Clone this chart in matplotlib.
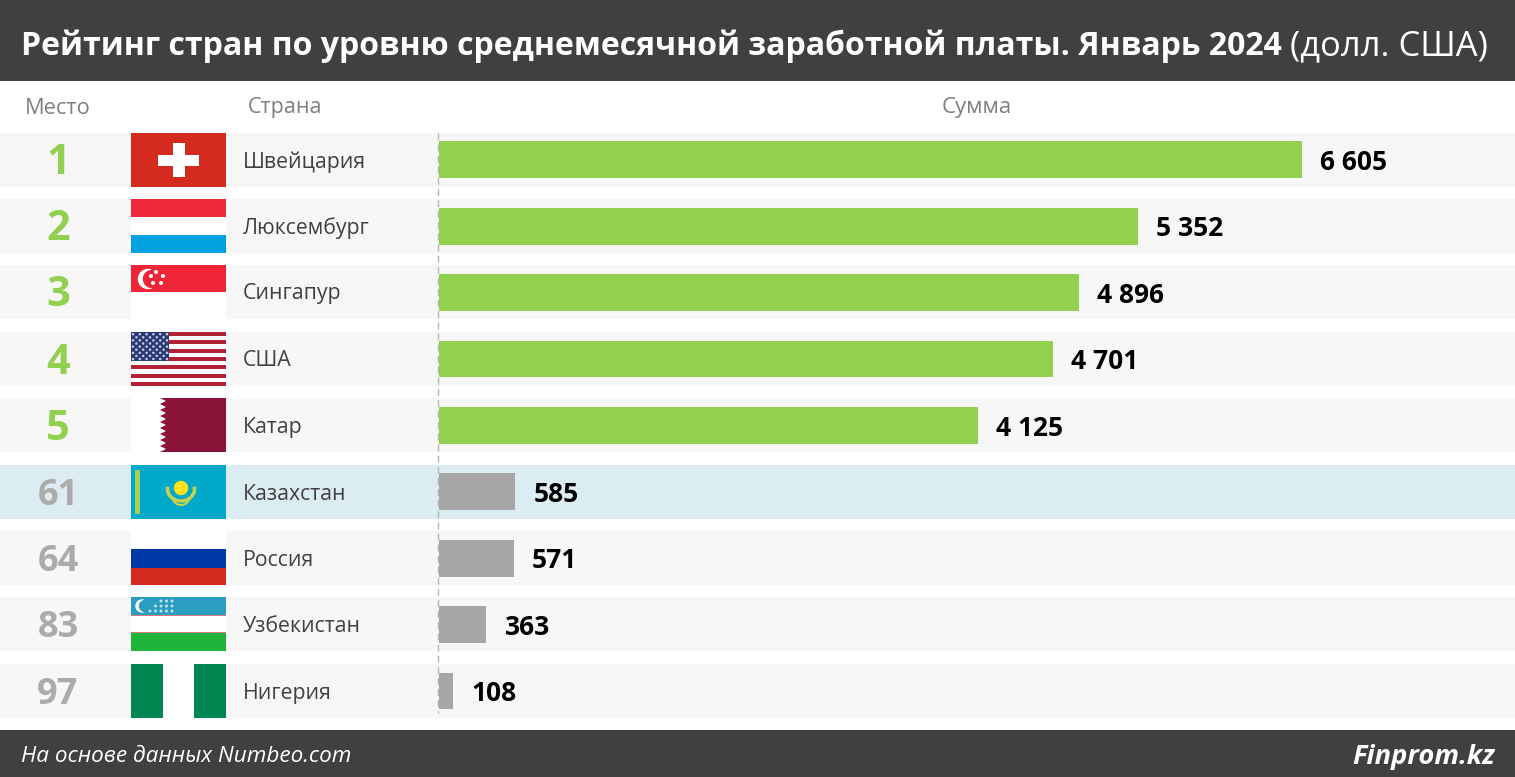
import numpy as np
import matplotlib
matplotlib.use("Agg")
import matplotlib.pyplot as plt
from matplotlib.patches import Rectangle, Polygon, Circle, Arc

W, H = 1515, 777

ranks = ["1", "2", "3", "4", "5", "61", "64", "83", "97"]
countries = ["Швейцария", "Люксембург", "Сингапур", "США", "Катар",
             "Казахстан", "Россия", "Узбекистан", "Нигерия"]
values = [6605, 5352, 4896, 4701, 4125, 585, 571, 363, 108]
value_labels = ["6 605", "5 352", "4 896", "4 701", "4 125", "585", "571", "363", "108"]
row_tops = [133, 199, 265, 332, 398, 465, 531, 597, 664]
flag_codes = ["ch", "lu", "sg", "us", "qa", "kz", "ru", "uz", "ng"]

GREEN = "#92D050"
GREY_BAR = "#A6A6A6"
GREY_RANK = "#ABABAB"
DARK = "#404040"
ROW_BG = "#F7F7F7"
HIGHLIGHT = "#DBECF2"
ROW_H = 54
FLAG_X = 131
FLAG_W = 95

plt.rcParams["font.family"] = ["Open Sans", "DejaVu Sans"]


def rect(ax, x, y, w, h, color, z=2):
    ax.add_patch(Rectangle((x, y), w, h, facecolor=color, edgecolor="none", zorder=z))


def draw_flag(ax, code, top):
    x, w, h = FLAG_X, FLAG_W, ROW_H
    rect(ax, x, top, w, h, "white")
    if code == "ch":
        rect(ax, x, top, w, h, "#D52B1E", 3)
        rect(ax, x + 27, top + 22, 41, 11, "white", 4)
        rect(ax, x + 42, top + 10, 12, 34, "white", 4)
    elif code == "lu":
        rect(ax, x, top, w, 18, "#ED2939", 3)
        rect(ax, x, top + 36, w, 18, "#00A1DE", 3)
    elif code == "sg":
        rect(ax, x, top, w, 27, "#EE2536", 3)
        ax.add_patch(Circle((x + 17, top + 14), 9.5, color="white", zorder=4))
        ax.add_patch(Circle((x + 21, top + 14), 8.5, color="#EE2536", zorder=5))
        for dx, dy in [(25, 7), (32, 11), (30, 18), (22, 18), (20, 11)]:
            ax.add_patch(Circle((x + dx, top + dy), 1.3, color="white", zorder=6))
    elif code == "us":
        for i in range(13):
            color = "#B22234" if i % 2 == 0 else "white"
            rect(ax, x, top + i * h / 13, w, h / 13, color, 3)
        rect(ax, x, top, 38, 29, "#2B3A75", 4)
        for i in range(9):
            for j in range(11):
                if (i + j) % 2 == 0:
                    ax.add_patch(Circle((x + 2 + j * 3.4, top + 2.2 + i * 3.1), 0.55,
                                        color="#C8CCE0", zorder=5))
    elif code == "qa":
        ys = np.linspace(top, top + h, 19)
        pts = [(x + w, top), (x + 29, top)]
        for i, y in enumerate(ys[1:]):
            pts.append((x + 29 + (6 if i % 2 == 0 else 0), y))
        pts.append((x + w, top + h))
        ax.add_patch(Polygon(pts, closed=True, facecolor="#8A1538", edgecolor="none", zorder=3))
    elif code == "kz":
        rect(ax, x, top, w, h, "#00A9C9", 3)
        rect(ax, x + 4, top + 5, 5, 44, "#A9CF55", 4)
        ax.add_patch(Circle((x + 50, top + 23), 6.5, color="#FFE21A", zorder=5))
        ax.add_patch(Arc((x + 50, top + 24), 27, 24, theta1=-10, theta2=190, color="#C9D44C",
                         lw=2.5, zorder=4))
        ax.add_patch(Arc((x + 50, top + 33), 16, 14, theta1=10, theta2=170, color="#C9D44C",
                         lw=1.5, zorder=4))
    elif code == "ru":
        rect(ax, x, top + 18, w, 19, "#0039A6", 3)
        rect(ax, x, top + 37, w, 17, "#D52B1E", 3)
    elif code == "uz":
        rect(ax, x, top, w, 18, "#2A9DC0", 3)
        rect(ax, x, top + 18, w, 1, "#D97A80", 3)
        rect(ax, x, top + 35, w, 1, "#D97A80", 3)
        rect(ax, x, top + 36, w, 18, "#1EB53A", 3)
        ax.add_patch(Circle((x + 11, top + 9), 6, color="white", zorder=4))
        ax.add_patch(Circle((x + 14, top + 9), 5.5, color="#2A9DC0", zorder=5))
        for i in range(3):
            for j in range(5):
                if i >= 2 - j:
                    ax.add_patch(Circle((x + 19 + j * 5.5, top + 4 + i * 5), 0.8,
                                        color="#BFE0EC", zorder=5))
    elif code == "ng":
        rect(ax, x, top, w / 3, h, "#008751", 3)
        rect(ax, x + 2 * w / 3, top, w / 3, h, "#008751", 3)


fig = plt.figure(figsize=(W / 100, H / 100), dpi=100, facecolor="white")

# pixel axes for the table furniture
ax = fig.add_axes([0, 0, 1, 1])
ax.set_xlim(0, W)
ax.set_ylim(H, 0)
ax.axis("off")

rect(ax, 0, 0, W, 81, DARK)
rect(ax, 0, 730, W, 47, DARK)

ax.text(21, 46, "Рейтинг стран по уровню среднемесячной заработной платы. Январь 2024",
        color="white", fontsize=23.05, fontweight="bold", va="center", ha="left")
ax.text(1488, 46, "(долл. США)", color="white", fontsize=24.8, va="center", ha="right")
ax.text(21, 756, "На основе данных Numbeo.com", color="white", fontsize=16.2,
        style="italic", va="center", ha="left")
ax.text(1495, 757, "Finprom.kz", color="white", fontsize=19.6, style="italic",
        fontweight="bold", va="center", ha="right")

ax.text(58, 108, "Место", color="#7F7F7F", fontsize=15.7, va="center", ha="center")
ax.text(248, 108, "Страна", color="#7F7F7F", fontsize=15.5, va="center", ha="left")
ax.text(977, 108, "Сумма", color="#7F7F7F", fontsize=16, va="center", ha="center")

for i, top in enumerate(row_tops):
    bg = HIGHLIGHT if countries[i] == "Казахстан" else ROW_BG
    rect(ax, 0, top, W, ROW_H, bg, 1)
    draw_flag(ax, flag_codes[i], top)
    rank_color = GREEN if i < 5 else GREY_RANK
    rank_size = 30 if i < 5 else 26
    ax.text(58, top + 31, ranks[i], color=rank_color, fontsize=rank_size,
            fontweight="bold", va="center", ha="center")
    ax.text(243, top + 29, countries[i], color="#404040", fontsize=15.3, va="center", ha="left")

ax.plot([438, 438], [133, 713], color="#B5B5B5", lw=1.0, ls=(0, (5, 3)), zorder=6)

# bars on their own value axis: 0 at px 439, 6605 at px 1302
bar_ax = fig.add_axes([439 / W, (H - 691 - 33.2) / H, 1 - 439 / W, 9 * 66.4 / H])
bar_ax.patch.set_alpha(0)
bar_ax.set_xlim(0, 6605 * (W - 439) / (1302 - 439))
bar_ax.set_ylim(8.5, -0.5)
bar_ax.axis("off")
colors = [GREEN] * 5 + [GREY_BAR] * 4
bar_ax.barh(np.arange(len(values)), values, height=0.557, color=colors, zorder=3)
for i, v in enumerate(values):
    bar_ax.annotate(value_labels[i], (v, i), xytext=(13, -2), textcoords="offset points",
                    color="black", fontsize=19, fontweight="bold", va="center", ha="left")

fig.savefig("out.png", dpi=100)
